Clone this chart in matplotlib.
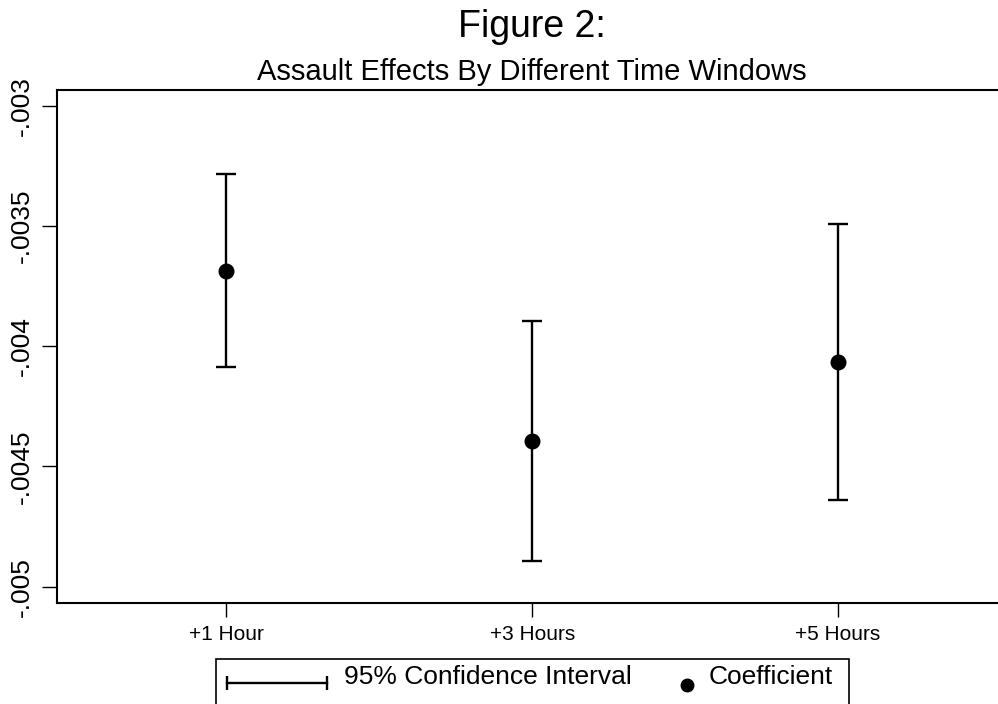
import numpy as np
import matplotlib.pyplot as plt
from matplotlib.patches import Rectangle
from matplotlib.lines import Line2D

plt.rcParams['font.family'] = ['Liberation Sans', 'DejaVu Sans']

windows = ['+1 Hour', '+3 Hours', '+5 Hours']
coef = [-0.003686, -0.004395, -0.004067]
ci_low = [-0.004087, -0.004892, -0.004640]
ci_high = [-0.003284, -0.003895, -0.003491]
yticks = [-0.003, -0.0035, -0.004, -0.0045, -0.005]
ytick_labels = ['-.003', '-.0035', '-.004', '-.0045', '-.005']

W, H = 998, 704
fig = plt.figure(figsize=(W / 100, H / 100), dpi=100)

def fx(px):
    return px / W

def fy(py):
    return 1 - py / H

ax = fig.add_axes([fx(57.3), fy(602.7), fx(1007) - fx(57.3), fy(90) - fy(602.7)])

x = np.arange(1, len(windows) + 1)
coef = np.array(coef)
err = [coef - np.array(ci_low), np.array(ci_high) - coef]
ax.errorbar(x, coef, yerr=err, fmt='none', ecolor='black', elinewidth=1.7,
            capsize=7, capthick=1.7)
ax.plot(x, coef, 'o', color='black', markersize=10.5, zorder=3)

ax.set_xlim(1 - 169 / 306, len(windows) + 169 / 306)
ax.set_ylim(-0.005067, -0.002935)
ax.set_xticks(x)
ax.set_xticklabels(windows, fontsize=15)
ax.set_yticks(yticks)
ax.set_yticklabels(ytick_labels, fontsize=19, rotation=90, va='center')
ax.tick_params(axis='x', length=10, width=1, pad=6)
ax.tick_params(axis='y', length=11, width=1, pad=6)
for s in ax.spines.values():
    s.set_linewidth(1.5)
ax.spines['right'].set_visible(False)

fig.text(fx(532), fy(27), 'Figure 2:', ha='center', va='center', fontsize=27)
fig.text(fx(532), fy(72), 'Assault Effects By Different Time Windows',
         ha='center', va='center', fontsize=21)

# legend drawn by hand to match the box layout
fig.patches.append(Rectangle((fx(216), fy(710)), fx(849) - fx(216), fy(659) - fy(710),
                             transform=fig.transFigure, fill=False, lw=1.2,
                             edgecolor='black', clip_on=False))
fig.lines.append(Line2D([fx(227), fx(327)], [fy(683), fy(683)],
                        transform=fig.transFigure, color='black', lw=1.7))
fig.lines.append(Line2D([fx(227), fx(327)], [fy(683), fy(683)],
                        transform=fig.transFigure, color='black', lw=0,
                        marker='|', markersize=10, markeredgewidth=1.7))
fig.lines.append(Line2D([fx(687)], [fy(685)], transform=fig.transFigure,
                        color='black', lw=0, marker='o', markersize=9))
fig.text(fx(344), fy(677), '95% Confidence Interval', ha='left', va='center', fontsize=19)
fig.text(fx(709), fy(677), 'Coefficient', ha='left', va='center', fontsize=19)

fig.savefig('out.png', dpi=100)
